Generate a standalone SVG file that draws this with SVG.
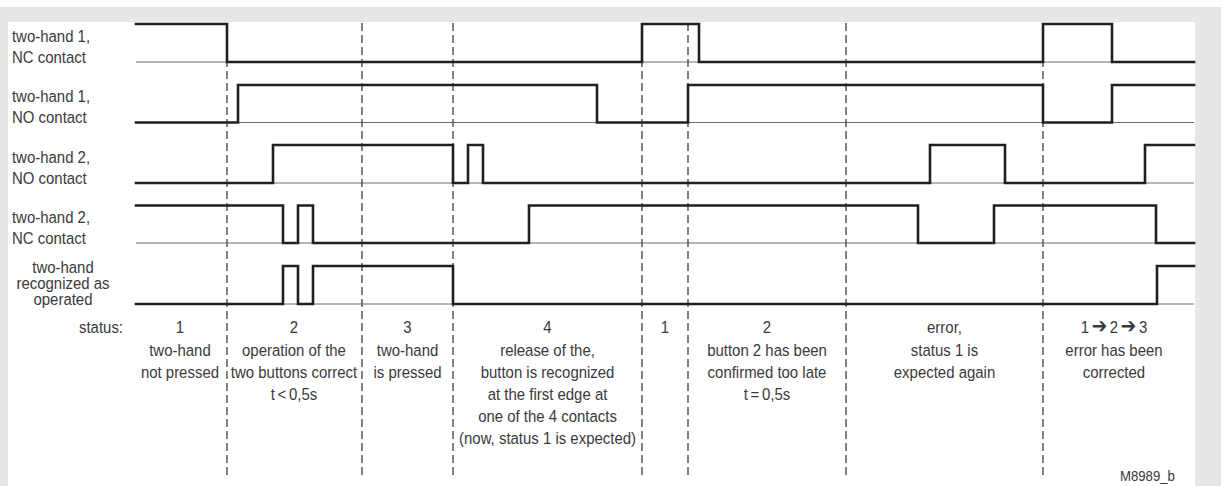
<svg xmlns="http://www.w3.org/2000/svg" width="1221" height="486" viewBox="0 0 1221 486">
  <style>
    .sig { fill: none; stroke: #231f20; stroke-width: 2.6; stroke-linejoin: miter; stroke-linecap: square; }
    .base { fill: none; stroke: #6d6e71; stroke-width: 1.1; }
    .dash { fill: none; stroke: #414042; stroke-width: 1.3; stroke-dasharray: 8 4; }
    .t { font-family: "Liberation Sans", Arial, sans-serif; font-size: 17px; fill: #3a3a3c; }
    .c { text-anchor: middle; }
    .e { text-anchor: end; }
    .small { font-size: 15px; }
    .arr { font-family: "DejaVu Sans", "Liberation Sans", sans-serif; font-size: 21px; }
  </style>
  <rect x="0" y="0" width="1221" height="486" fill="#ffffff"/>
  <rect x="0" y="7" width="1221" height="479" fill="#e6e7e8"/>
  <rect x="8" y="22" width="1187" height="464" fill="#ffffff"/>

  <g id="baselines">
    <path class="base" d="M136,62 H1194 M136,122.5 H1194 M136,183 H1194 M136,243 H1194 M136,304 H1194"/>
  </g>

  <g id="connectors">
    <path class="dash" d="M227,23 V478 M362,23 V478 M453,23 V478 M642,23 V478 M688,23 V478 M846,23 V478 M1043,23 V478"/>
  </g>

  <g id="row-two-hand-1-nc">
    <g transform="scale(0.88,1)">
      <text class="t" x="13.6" y="42">two-hand 1,</text>
      <text class="t" x="13.6" y="63">NC contact</text>
    </g>
    <path class="sig" d="M136,24 H227 V62 H642 V24 H699 V62 H1043 V24 H1112 V62 H1194"/>
  </g>

  <g id="row-two-hand-1-no">
    <g transform="scale(0.88,1)">
      <text class="t" x="13.6" y="102.5">two-hand 1,</text>
      <text class="t" x="13.6" y="123.5">NO contact</text>
    </g>
    <path class="sig" d="M136,122.5 H238 V85 H597 V122.5 H688 V85 H1043 V122.5 H1112 V85 H1194"/>
  </g>

  <g id="row-two-hand-2-no">
    <g transform="scale(0.88,1)">
      <text class="t" x="13.6" y="163">two-hand 2,</text>
      <text class="t" x="13.6" y="184">NO contact</text>
    </g>
    <path class="sig" d="M136,183 H273 V145 H453 V183 H468 V145 H483 V183 H930 V145 H1005 V183 H1145 V145 H1194"/>
  </g>

  <g id="row-two-hand-2-nc">
    <g transform="scale(0.88,1)">
      <text class="t" x="13.6" y="223.5">two-hand 2,</text>
      <text class="t" x="13.6" y="244.5">NC contact</text>
    </g>
    <path class="sig" d="M136,205.5 H283 V243 H298 V205.5 H313 V243 H529 V205.5 H918 V243 H994 V205.5 H1156 V243 H1194"/>
  </g>

  <g id="row-recognized">
    <g transform="scale(0.88,1)">
      <text class="t c" x="71.6" y="273">two-hand</text>
      <text class="t c" x="71.6" y="289">recognized as</text>
      <text class="t c" x="71.6" y="305">operated</text>
    </g>
    <path class="sig" d="M136,304 H283 V266 H298 V304 H313 V266 H453 V304 H1157 V266 H1194"/>
  </g>

  <g id="status-row">
    <g transform="scale(0.88,1)">
      <text class="t e" x="139.8" y="333">status:</text>

      <text class="t c" x="204.5" y="333">1</text>
      <text class="t c" x="204.5" y="356">two-hand</text>
      <text class="t c" x="204.5" y="378">not pressed</text>

      <text class="t c" x="334.1" y="333">2</text>
      <text class="t c" x="334.1" y="356">operation of the</text>
      <text class="t c" x="334.1" y="378">two buttons correct</text>
      <text class="t c" x="334.1" y="400">t<tspan dx="3">&lt;</tspan><tspan dx="3">0,5s</tspan></text>

      <text class="t c" x="463.1" y="333">3</text>
      <text class="t c" x="463.1" y="356">two-hand</text>
      <text class="t c" x="463.1" y="378">is pressed</text>

      <text class="t c" x="622.2" y="333">4</text>
      <text class="t c" x="622.2" y="356">release of the,</text>
      <text class="t c" x="622.2" y="378">button is recognized</text>
      <text class="t c" x="622.2" y="400">at the first edge at</text>
      <text class="t c" x="622.2" y="422">one of the 4 contacts</text>
      <text class="t c" x="622.2" y="444">(now, status 1 is expected)</text>

      <text class="t c" x="755.7" y="333">1</text>

      <text class="t c" x="871.6" y="333">2</text>
      <text class="t c" x="871.6" y="356">button 2 has been</text>
      <text class="t c" x="871.6" y="378">confirmed too late</text>
      <text class="t c" x="871.6" y="400">t<tspan dx="3">=</tspan><tspan dx="3">0,5s</tspan></text>

      <text class="t c" x="1073.3" y="333">error,</text>
      <text class="t c" x="1073.3" y="356">status 1 is</text>
      <text class="t c" x="1073.3" y="378">expected again</text>

      <text class="t c" x="1265.9" y="333">1<tspan class="arr" dx="3">➔</tspan><tspan dx="3">2</tspan><tspan class="arr" dx="3">➔</tspan><tspan dx="3">3</tspan></text>
      <text class="t c" x="1265.9" y="356">error has been</text>
      <text class="t c" x="1265.9" y="378">corrected</text>

      <text class="t small" x="1272.7" y="481">M8989_b</text>
    </g>
  </g>
</svg>
